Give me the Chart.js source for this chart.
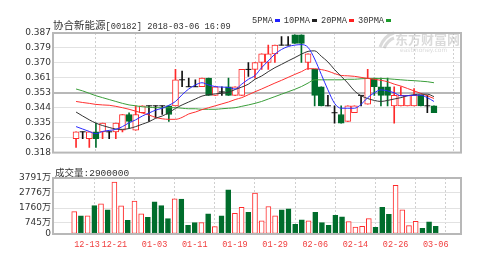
<!DOCTYPE html>
<html>
<head>
<meta charset="utf-8">
<script src="https://cdn.jsdelivr.net/npm/chart.js@4.4.1/dist/chart.umd.min.js"></script>
<style>
  html, body { margin: 0; padding: 0; background: #fff; }
  #wrap { position: relative; width: 504px; height: 264px; overflow: hidden; }
  #c1 { position: absolute; left: 0; top: 0; }
  #c2 { position: absolute; left: 0; top: 160px; }
  .t { position: absolute; white-space: nowrap; color: #333; line-height: 1; }
  .cjk { font-family: "Noto Sans CJK SC"; }
  .mono { font-family: "Liberation Mono"; }
  .dash { display: inline-block; width: 5px; height: 3px; margin: 0 4px 1px 2px; vertical-align: middle; }
</style>
</head>
<body>
<div id="wrap">
  <canvas id="c1" width="504" height="160"></canvas>
  <canvas id="c2" width="504" height="104"></canvas>
  <div class="t" style="left:53px; top:16px;">
    <span class="cjk" style="font-size:10.5px;">协合新能源</span><span class="mono" style="font-size:8.7px;">[00182] 2018-03-06 16:09</span>
  </div>
  <div class="t mono" style="left:252px; top:17px; font-size:8.7px;">
    5PMA<span class="dash" style="background:#2020ff"></span>10PMA<span class="dash" style="background:#222"></span>20PMA<span class="dash" style="background:#ff2020"></span>30PMA<span class="dash" style="background:#1a9a2a"></span>
  </div>
  <div class="t" style="left:55px; top:163px;">
    <span class="cjk" style="font-size:9.5px;">成交量</span><span class="mono" style="font-size:9.5px;">:2900000</span>
  </div>
</div>
<script>
// trading days
const dates = ["12-13","12-14","12-15","12-18","12-19","12-20","12-21","12-22","12-27","12-28","12-29",
  "01-02","01-03","01-04","01-05","01-08","01-09","01-10","01-11","01-12","01-15","01-16","01-17","01-18","01-19",
  "01-22","01-23","01-24","01-25","01-26","01-29","01-30","01-31",
  "02-01","02-02","02-05","02-06","02-07","02-08","02-09","02-12","02-13","02-14","02-15","02-20","02-21","02-22","02-23",
  "02-26","02-27","02-28","03-01","03-02","03-05","03-06"];

const opens  = [0.326,0.330,0.326,0.330,0.330,0.330,0.330,0.331,0.340,0.331,0.341,0.345,0.345,0.345,0.345,0.345,0.360,0.356,0.356,0.356,
  0.361,0.351,0.353,0.356,0.351,0.351,0.366,0.366,0.370,0.370,0.375,0.380,0.380,0.386,0.386,0.370,0.366,0.356,0.345,0.341,
  0.340,0.336,0.341,0.351,0.346,0.361,0.356,0.356,0.345,0.345,0.345,0.345,0.351,0.345,0.345];
const highs  = [0.330,0.330,0.330,0.335,0.335,0.330,0.335,0.340,0.341,0.345,0.345,0.345,0.345,0.345,0.345,0.366,0.365,0.361,0.360,0.361,
  0.361,0.356,0.356,0.361,0.356,0.366,0.370,0.370,0.375,0.380,0.380,0.385,0.385,0.386,0.386,0.375,0.366,0.356,0.351,0.345,
  0.345,0.345,0.345,0.351,0.366,0.361,0.361,0.361,0.356,0.356,0.351,0.355,0.351,0.351,0.345];
const lows   = [0.321,0.326,0.321,0.321,0.326,0.326,0.326,0.330,0.332,0.331,0.341,0.336,0.338,0.340,0.336,0.345,0.356,0.356,0.356,0.356,
  0.351,0.351,0.351,0.351,0.351,0.351,0.362,0.361,0.366,0.366,0.370,0.380,0.380,0.381,0.370,0.366,0.345,0.345,0.345,0.335,
  0.335,0.336,0.341,0.345,0.346,0.351,0.345,0.345,0.335,0.345,0.345,0.345,0.345,0.341,0.341];
const closes = [0.330,0.330,0.330,0.326,0.335,0.330,0.335,0.340,0.336,0.340,0.345,0.345,0.345,0.345,0.340,0.360,0.360,0.356,0.356,0.361,
  0.351,0.356,0.353,0.351,0.356,0.366,0.366,0.370,0.375,0.375,0.380,0.380,0.380,0.381,0.381,0.375,0.351,0.345,0.345,0.341,
  0.335,0.345,0.345,0.351,0.361,0.356,0.351,0.351,0.351,0.351,0.351,0.351,0.345,0.345,0.341];

const ma5  = [0.3330,0.3316,0.3302,0.3289,0.3302,0.3308,0.3314,0.3330,0.3352,0.3369,0.3391,0.3408,0.3425,0.3436,0.3453,0.3475,0.3514,0.3547,0.3570,0.3583,
  0.3570,0.3561,0.3558,0.3556,0.3547,0.3575,0.3603,0.3625,0.3670,0.3709,0.3748,0.3775,0.3792,0.3800,0.3803,0.3787,0.3720,0.3631,0.3542,0.3464,
  0.3436,0.3436,0.3436,0.3458,0.3497,0.3525,0.3542,0.3536,0.3525,0.3508,0.3508,0.3511,0.3511,0.3497,0.3475];
const ma10 = [0.3414,0.3391,0.3369,0.3350,0.3336,0.3325,0.3316,0.3314,0.3319,0.3330,0.3344,0.3358,0.3378,0.3391,0.3410,0.3435,0.3455,0.3472,0.3489,0.3506,
  0.3514,0.3519,0.3522,0.3528,0.3544,0.3558,0.3575,0.3603,0.3622,0.3647,0.3670,0.3689,0.3709,0.3728,0.3748,0.3764,0.3767,0.3736,0.3703,0.3659,
  0.3620,0.3581,0.3536,0.3508,0.3492,0.3481,0.3475,0.3481,0.3489,0.3497,0.3508,0.3514,0.3517,0.3517,0.3503];
const ma20 = [0.3475,0.3469,0.3464,0.3458,0.3455,0.3453,0.3447,0.3439,0.3430,0.3419,0.3408,0.3397,0.3383,0.3375,0.3372,0.3372,0.3383,0.3403,0.3414,0.3428,
  0.3439,0.3450,0.3461,0.3472,0.3486,0.3497,0.3514,0.3531,0.3547,0.3564,0.3581,0.3597,0.3614,0.3631,0.3647,0.3664,0.3664,0.3659,0.3650,0.3636,
  0.3625,0.3623,0.3620,0.3614,0.3608,0.3603,0.3597,0.3589,0.3575,0.3564,0.3550,0.3536,0.3522,0.3508,0.3492];
const ma30 = [0.3547,0.3536,0.3522,0.3508,0.3497,0.3486,0.3475,0.3464,0.3455,0.3450,0.3444,0.3442,0.3439,0.3439,0.3439,0.3439,0.3436,0.3433,0.3433,0.3430,
  0.3430,0.3430,0.3433,0.3436,0.3439,0.3447,0.3455,0.3464,0.3475,0.3489,0.3503,0.3517,0.3531,0.3545,0.3561,0.3581,0.3600,0.3600,0.3600,0.3600,
  0.3600,0.3603,0.3603,0.3606,0.3608,0.3608,0.3608,0.3606,0.3603,0.3600,0.3597,0.3595,0.3592,0.3589,0.3583];

// volume, in 万
const volumes = [1517,1224,1224,1926,2040,1632,3513,1904,930,2222,1360,1133,2176,1926,1042,2380,
  2358,589,770,770,1360,499,1224,2992,1405,1813,1473,2765,884,1859,1224,1632,1700,657,952,884,1473,770,589,
  1269,1156,839,476,522,1042,453,1813,1337,3287,1632,566,861,385,816,522];

const priceTicks = ["0.318","0.326","0.335","0.344","0.353","0.361","0.370","0.379","0.387"];
const volTicks = [0, 745, 1760, 2776, 3791];
const dateTickIdx = [0, 6, 12, 18, 24, 30, 36, 42, 48, 54];

const RED = '#ff2a2a', GREEN = '#006d2c', BLACK = '#111';
const idx = dates.map((d, i) => i);

function dir(i) {
  if (closes[i] > opens[i]) return 1;
  if (closes[i] < opens[i]) return -1;
  return 0;
}
function candleColor(i) {
  const d = dir(i);
  return d > 0 ? RED : d < 0 ? GREEN : BLACK;
}
function volUp(i) {
  const d = dir(i);
  if (d !== 0) return d > 0;
  return i > 0 && closes[i] > closes[i - 1];
}

const X_MIN = -0.4, X_MAX = 55;
const P_MIN = 0.318, P_MAX = 0.387;

const frame = {
  id: 'frame',
  afterDraw(chart) {
    const { ctx, chartArea: a } = chart;
    ctx.save();
    ctx.strokeStyle = '#b8b8b8';
    ctx.lineWidth = 2;
    ctx.strokeRect(a.left, a.top, a.right - a.left, a.bottom - a.top);
    ctx.restore();
  }
};

const watermark = {
  id: 'watermark',
  beforeDatasetsDraw(chart) {
    const ctx = chart.ctx;
    ctx.save();
    ctx.fillStyle = 'rgba(150,150,150,0.35)';
    ctx.strokeStyle = 'rgba(150,150,150,0.35)';
    ctx.lineWidth = 3;
    ctx.beginPath();
    ctx.moveTo(380, 47);
    ctx.quadraticCurveTo(384, 36, 394, 33);
    ctx.stroke();
    ctx.beginPath();
    ctx.moveTo(384, 48);
    ctx.quadraticCurveTo(388, 40, 394, 38);
    ctx.stroke();
    ctx.font = 'bold 13px "Noto Sans CJK SC"';
    ctx.textBaseline = 'middle';
    ctx.fillText('东方财富网', 395, 39);
    ctx.font = '6px "DejaVu Sans"';
    ctx.fillText('eastmoney.com', 400, 50);
    ctx.restore();
  }
};

const gridColor = '#e2e2e2';

new Chart(document.getElementById('c1'), {
  type: 'bar',
  data: {
    datasets: [
      { type: 'line', data: idx.map(i => ({ x: i, y: ma5[i] })), borderColor: '#2a2aff', borderWidth: 1, pointRadius: 0, cubicInterpolationMode: 'monotone', order: 0 },
      { type: 'line', data: idx.map(i => ({ x: i, y: ma10[i] })), borderColor: '#333', borderWidth: 1, pointRadius: 0, cubicInterpolationMode: 'monotone', order: 0 },
      { type: 'line', data: idx.map(i => ({ x: i, y: ma20[i] })), borderColor: '#ff3030', borderWidth: 1, pointRadius: 0, cubicInterpolationMode: 'monotone', order: 0 },
      { type: 'line', data: idx.map(i => ({ x: i, y: ma30[i] })), borderColor: '#3a9e3a', borderWidth: 1, pointRadius: 0, cubicInterpolationMode: 'monotone', order: 0 },
      {
        type: 'scatter',
        data: idx.filter(i => dir(i) === 0).map(i => ({ x: i, y: closes[i] })),
        pointStyle: 'line', pointRadius: 3, borderColor: BLACK, borderWidth: 1, order: 1
      },
      {
        type: 'bar',
        data: idx.filter(i => dir(i) !== 0).map(i => ({ x: i, y: [opens[i], closes[i]] })),
        backgroundColor: ctx => dir(ctx.raw.x) > 0 ? '#fff' : GREEN,
        borderColor: ctx => candleColor(ctx.raw.x),
        borderWidth: 1, borderSkipped: false, barThickness: 6, grouped: false, order: 2
      },
      {
        type: 'bar',
        data: idx.map(i => ({ x: i, y: [lows[i], highs[i]] })),
        backgroundColor: ctx => candleColor(ctx.raw.x),
        barThickness: 1, grouped: false, order: 3
      }
    ]
  },
  options: {
    responsive: false,
    animation: false,
    layout: { padding: { left: 0, right: 43, top: 33, bottom: 3 } },
    plugins: { legend: { display: false }, tooltip: { enabled: false } },
    scales: {
      x: {
        type: 'linear', min: X_MIN, max: X_MAX,
        afterBuildTicks: s => { s.ticks = dateTickIdx.map(v => ({ value: v })); },
        afterFit: s => { s.height = 0; },
        ticks: { display: false },
        grid: { color: ctx => (ctx.tick && ctx.tick.value === 0) ? 'rgba(0,0,0,0)' : '#cfcfcf', drawTicks: false },
        border: { display: false, dash: [2, 2] }
      },
      y: {
        min: P_MIN, max: P_MAX,
        afterBuildTicks: s => { s.ticks = priceTicks.map((t, k) => ({ value: P_MIN + k * (P_MAX - P_MIN) / (priceTicks.length - 1) })); },
        afterFit: s => { s.width = 53; },
        ticks: { callback: (v, i) => priceTicks[i], color: '#333', font: { family: 'DejaVu Sans', size: 9 }, padding: 2 },
        grid: {
          color: ctx => ctx.index === 4 ? '#b8b8b8' : gridColor,
          lineWidth: ctx => ctx.index === 4 ? 2 : 1,
          drawTicks: false
        },
        border: { display: false }
      }
    }
  },
  plugins: [watermark, frame]
});

new Chart(document.getElementById('c2'), {
  type: 'bar',
  data: {
    datasets: [{
      data: idx.map(i => ({ x: i, y: volumes[i] })),
      backgroundColor: ctx => volUp(ctx.raw.x) ? '#fff' : GREEN,
      borderColor: ctx => volUp(ctx.raw.x) ? RED : GREEN,
      borderWidth: 1, borderSkipped: false, barThickness: 5
    }]
  },
  options: {
    responsive: false,
    animation: false,
    layout: { padding: { left: 0, right: 43, top: 18, bottom: 0 } },
    plugins: { legend: { display: false }, tooltip: { enabled: false } },
    scales: {
      x: {
        type: 'linear', min: X_MIN, max: X_MAX,
        afterBuildTicks: s => { s.ticks = dateTickIdx.concat([X_MAX]).map(v => ({ value: v })); },
        afterFit: s => { s.height = 30; },
        ticks: {
          autoSkip: false, maxRotation: 0, align: 'inner', padding: 6,
          callback: v => v <= 54 ? dates[v] : '',
          color: '#f03c3c', font: { family: 'Liberation Mono', size: 8.5 }
        },
        grid: { color: ctx => (ctx.tick && (ctx.tick.value === 0 || ctx.tick.value > 54)) ? 'rgba(0,0,0,0)' : '#cfcfcf', drawTicks: false },
        border: { display: false, dash: [2, 2] }
      },
      y: {
        min: 0, max: 3791,
        afterBuildTicks: s => { s.ticks = volTicks.map(v => ({ value: v })); },
        afterFit: s => { s.width = 53; },
        ticks: { callback: v => v === 0 ? '0' : v + '万', color: '#333', font: { family: 'DejaVu Sans, Noto Sans CJK SC', size: 9 }, padding: 2 },
        grid: { color: gridColor, drawTicks: false },
        border: { display: false }
      }
    }
  },
  plugins: [frame]
});
</script>
</body>
</html>
